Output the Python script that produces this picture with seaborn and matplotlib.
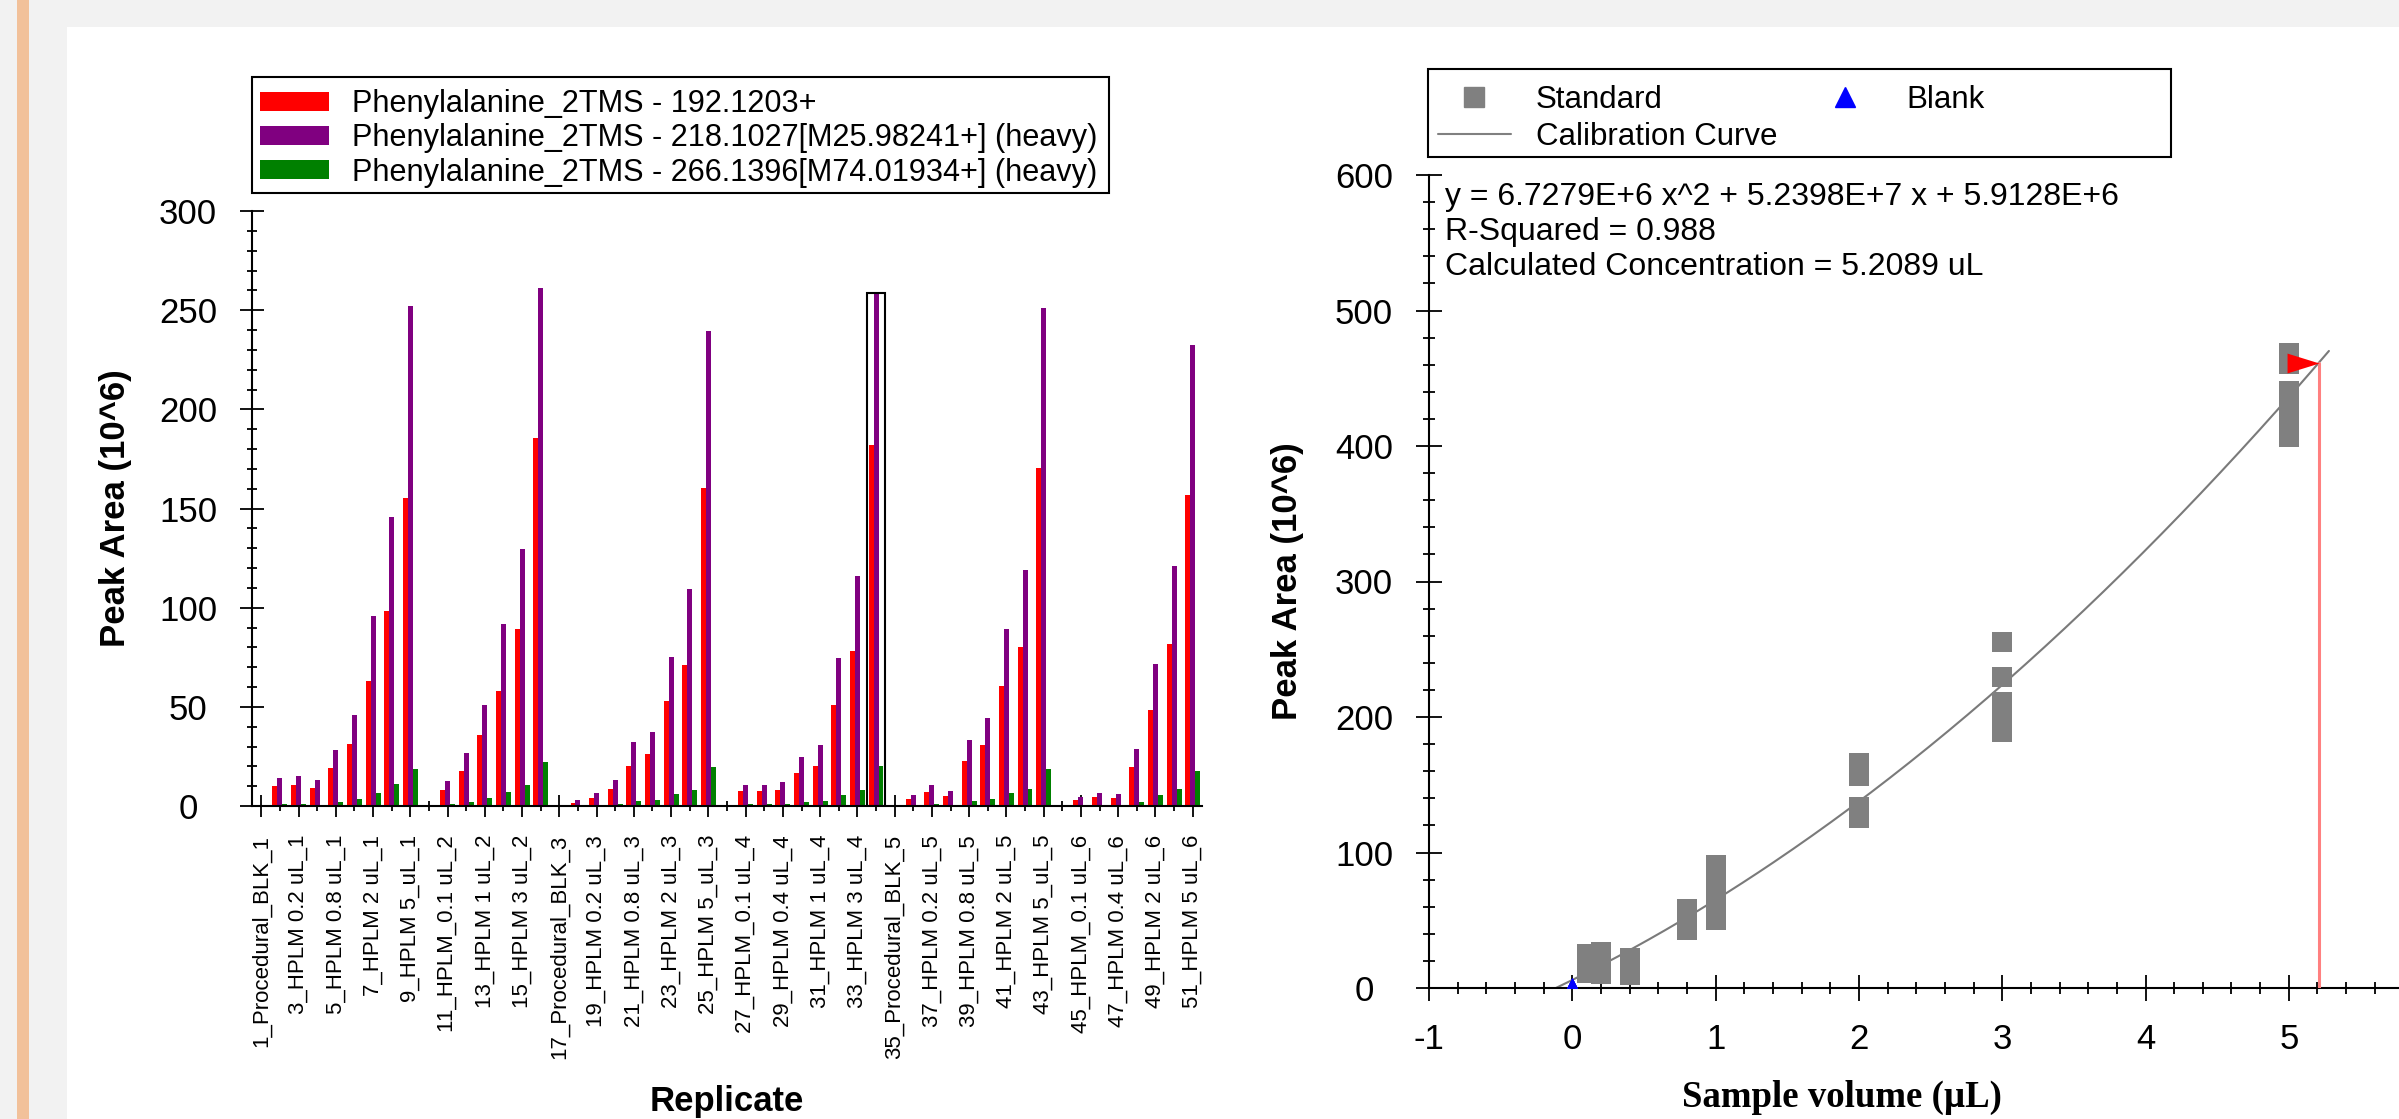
import numpy as np
import pandas as pd
import matplotlib
matplotlib.use("Agg")
import matplotlib.pyplot as plt
import seaborn as sns
from matplotlib.lines import Line2D
from matplotlib.patches import Patch, Rectangle
from matplotlib.ticker import MultipleLocator

# =========================
# Data (Peak Area in 10^6)
# =========================
replicates = [
    "1_Procedural_BLK_1", "2_HPLM_0.1 uL_1", "3_HPLM 0.2 uL_1", "4_HPLM 0.4 uL_1",
    "5_HPLM 0.8 uL_1", "6_HPLM 1 uL_1", "7_HPLM 2 uL_1", "8_HPLM 3 uL_1", "9_HPLM 5_uL_1",
    "10_Procedural_BLK_2", "11_HPLM_0.1 uL_2", "12_HPLM 0.8 uL_2", "13_HPLM 1 uL_2",
    "14_HPLM 2 uL_2", "15_HPLM 3 uL_2", "16_HPLM 5_uL_2",
    "17_Procedural_BLK_3", "18_HPLM_0.1 uL_3", "19_HPLM 0.2 uL_3", "20_HPLM 0.4 uL_3",
    "21_HPLM 0.8 uL_3", "22_HPLM 1 uL_3", "23_HPLM 2 uL_3", "24_HPLM 3 uL_3", "25_HPLM 5_uL_3",
    "26_Procedural_BLK_4", "27_HPLM_0.1 uL_4", "28_HPLM 0.2 uL_4", "29_HPLM 0.4 uL_4",
    "30_HPLM 0.8 uL_4", "31_HPLM 1 uL_4", "32_HPLM 2 uL_4", "33_HPLM 3 uL_4", "34_HPLM 5_uL_4",
    "35_Procedural_BLK_5", "36_HPLM_0.1 uL_5", "37_HPLM 0.2 uL_5", "38_HPLM 0.4 uL_5",
    "39_HPLM 0.8 uL_5", "40_HPLM 1 uL_5", "41_HPLM 2 uL_5", "42_HPLM 3 uL_5", "43_HPLM 5_uL_5",
    "44_Procedural_BLK_6", "45_HPLM_0.1 uL_6", "46_HPLM 0.2 uL_6", "47_HPLM 0.4 uL_6",
    "48_HPLM 1 uL_6", "49_HPLM 2 uL_6", "50_HPLM 3 uL_6", "51_HPLM 5 uL_6",
]

area_192 = [
    0, 10.2, 10.6, 9.0, 19.2, 31.3, 63.2, 98.4, 155.1,
    0, 8.1, 17.5, 35.6, 58.2, 89.0, 185.5,
    0, 1.5, 4.0, 8.5, 20.4, 26.1, 52.7, 70.9, 160.1,
    0, 7.5, 7.5, 7.9, 16.5, 20.4, 50.7, 78.4, 182.2,
    0, 3.3, 6.9, 5.0, 22.5, 30.6, 60.7, 80.3, 170.5,
    0, 2.9, 4.4, 4.0, 19.6, 48.2, 81.9, 156.6,
]
area_218 = [
    0, 14.3, 14.9, 12.9, 28.0, 46.0, 95.7, 145.7, 252.0,
    0, 12.5, 26.5, 50.7, 91.9, 129.7, 261.4,
    0, 2.9, 6.5, 12.9, 32.1, 37.1, 75.3, 109.4, 239.7,
    0, 10.4, 10.8, 11.9, 24.6, 30.6, 74.4, 116.1, 257.9,
    0, 5.4, 10.4, 7.5, 33.5, 44.5, 89.4, 119.0, 251.2,
    0, 4.5, 6.4, 5.8, 28.9, 71.7, 121.1, 232.2,
]
area_266 = [
    0, 0.8, 0.8, 0.7, 2.0, 3.3, 6.8, 10.9, 18.5,
    0, 1.0, 2.1, 4.2, 6.9, 10.6, 22.1,
    0, 0.2, 0.4, 1.0, 2.5, 3.1, 5.8, 8.3, 19.6,
    0, 0.8, 0.8, 0.8, 1.9, 2.5, 5.4, 8.3, 20.4,
    0, 0.3, 0.8, 0.5, 2.4, 3.3, 6.4, 8.4, 18.5,
    0, 0.2, 0.4, 0.4, 1.8, 5.4, 8.4, 17.5,
]
ion_labels = [
    "Phenylalanine_2TMS - 192.1203+",
    "Phenylalanine_2TMS - 218.1027[M25.98241+] (heavy)",
    "Phenylalanine_2TMS - 266.1396[M74.01934+] (heavy)",
]
ion_colors = ["#ff0000", "#800080", "#008000"]
selected_replicate = "34_HPLM 5_uL_4"

# calibration standards (sample volume uL, peak area 10^6)
std_volume = [0.1] * 6 + [0.2] * 5 + [0.4] * 5 + [0.8] * 5 + [1] * 6 + [2] * 6 + [3] * 6 + [5] * 6
std_area = [
    25.4, 21.8, 11.0, 18.7, 12.0, 12.5,
    26.4, 10.5, 19.1, 18.1, 10.9,
    22.5, 22.4, 20.6, 12.5, 9.8,
    49.4, 46.1, 55.0, 43.0, 58.6,
    80.7, 90.5, 66.3, 53.5, 78.5, 50.5,
    165.8, 157.0, 133.8, 130.5, 156.6, 125.3,
    255.1, 229.3, 188.6, 202.8, 207.6, 211.3,
    425.7, 469.0, 419.4, 460.5, 440.3, 406.3,
]
blank_volume = [0, 0, 0, 0, 0, 0]
blank_area = [0, 0, 0, 0, 0, 0]

# y = a x^2 + b x + c  (in 10^6)
fit_a, fit_b, fit_c = 6.7279, 52.398, 5.9128
fit_r2 = 0.988
calc_conc = 5.2089
curve_end = 5.28

# =========================
# Style
# =========================
W, H, DPI = 2399, 1119, 100
sns.set_style("ticks", {"axes.edgecolor": "black", "xtick.color": "black",
                        "ytick.color": "black", "text.color": "black",
                        "axes.labelcolor": "black"})
plt.rcParams["font.family"] = ["Liberation Sans", "DejaVu Sans"]
plt.rcParams["axes.unicode_minus"] = False


def px_box(x0, y0, x1, y1):
    # pixel box (top-left origin) -> figure fraction [l, b, w, h]
    return [x0 / W, 1 - y1 / H, (x1 - x0) / W, (y1 - y0) / H]


fig = plt.figure(figsize=(W / DPI, H / DPI), dpi=DPI, facecolor="#f2f2f2")
fig.patches.append(Rectangle((67 / W, 0), 1 - 67 / W, 1 - 27 / H, transform=fig.transFigure,
                             facecolor="white", edgecolor="none", zorder=-10))
fig.patches.append(Rectangle((17 / W, 0), 12 / W, 1, transform=fig.transFigure,
                             facecolor="#f2c19a", edgecolor="none", zorder=-10))

ax1 = fig.add_axes(px_box(252, 211, 1202, 806))
ax2 = fig.add_axes(px_box(1429, 175, 2399, 988))
for ax in (ax1, ax2):
    ax.set_facecolor("none")

# =========================
# Left: peak areas by replicate
# =========================
n = len(replicates)
df = pd.DataFrame({
    "Replicate": replicates * 3,
    "Area": area_192 + area_218 + area_266,
    "Ion": [ion_labels[0]] * n + [ion_labels[1]] * n + [ion_labels[2]] * n,
})
sns.barplot(data=df, x="Replicate", y="Area", hue="Ion", order=replicates,
            hue_order=ion_labels, palette=ion_colors, width=0.8, gap=0,
            saturation=1, errorbar=None, linewidth=0, legend=False, ax=ax1)

sel = replicates.index(selected_replicate)
sel_top = df.loc[df["Replicate"] == selected_replicate, "Area"].max() + 0.6
ax1.add_patch(Rectangle((sel - 0.5, 0), 1, sel_top, fill=False, edgecolor="black",
                        linewidth=1.5, zorder=5))

ax1.set_xlim(-0.5, n - 0.5)
ax1.set_ylim(0, 300)
ax1.set_xticks(range(0, n, 2))
ax1.set_xticklabels(replicates[::2], rotation=90, fontsize=16)
ax1.set_xticks(range(1, n, 2), minor=True)
ax1.set_yticks(range(0, 301, 50))
ax1.yaxis.set_minor_locator(MultipleLocator(10))
ax1.tick_params(which="both", direction="inout", width=1.3)
ax1.tick_params(axis="y", which="major", length=17, pad=37.6, labelsize=25)
ax1.tick_params(axis="y", which="minor", length=6.5)
ax1.tick_params(axis="x", which="major", length=16.5, pad=12.6)
ax1.tick_params(axis="x", which="minor", length=7.5)
plt.setp(ax1.get_yticklabels(), ha="center")

ax1.set_ylabel("Peak Area (10^6)", fontsize=25, fontweight="bold", va="center")
ax1.yaxis.set_label_coords((115 - 252) / 950, 0.5)
ax1.set_xlabel("Replicate", fontsize=25, fontweight="bold", va="center")
ax1.xaxis.set_label_coords(0.5, (806 - 1101) / 595)

# =========================
# Right: calibration curve
# =========================
std_df = pd.DataFrame({"Volume": std_volume, "Area": std_area})
x_start = (-fit_b + np.sqrt(fit_b ** 2 - 4 * fit_a * fit_c)) / (2 * fit_a)
x_fit = np.linspace(x_start, curve_end, 200)
y_fit = fit_a * x_fit ** 2 + fit_b * x_fit + fit_c
y_calc = fit_a * calc_conc ** 2 + fit_b * calc_conc + fit_c

sns.lineplot(x=x_fit, y=y_fit, color="#7a7a7a", linewidth=1.5, ax=ax2, zorder=2)
sns.scatterplot(data=std_df, x="Volume", y="Area", marker="s", s=14.8 ** 2,
                color="#808080", linewidth=0, legend=False, ax=ax2, zorder=3)
sns.scatterplot(x=blank_volume, y=blank_area, marker="^", s=15 ** 2,
                color="#0000ff", linewidth=0, legend=False, ax=ax2, zorder=4)
ax2.plot([calc_conc, calc_conc], [0, y_calc], color="#ff8080", linewidth=2.2, zorder=4)
flag = [(-2, -0.62), (0, 0), (-2, 0.62)]
ax2.plot([calc_conc], [y_calc], marker=flag, markersize=46, color="#ff0000",
         markeredgewidth=0, linestyle="none", zorder=6)

ax2.set_xlim(-1, -1 + 970 / 143.3)
ax2.set_ylim(0, 600)
ax2.set_xticks(range(-1, 6))
ax2.xaxis.set_minor_locator(MultipleLocator(0.2))
ax2.set_yticks(range(0, 601, 100))
ax2.yaxis.set_minor_locator(MultipleLocator(20))
ax2.tick_params(which="both", direction="inout", width=1.3, labelsize=25)
ax2.tick_params(axis="y", which="major", length=18.7, pad=37.4)
ax2.tick_params(axis="x", which="major", length=18.7, pad=15.9)
ax2.tick_params(which="minor", length=9)
plt.setp(ax2.get_yticklabels(), ha="center")

ax2.set_ylabel("Peak Area (10^6)", fontsize=25, fontweight="bold", va="center")
ax2.yaxis.set_label_coords((1288 - 1429) / 970, 0.5)
ax2.set_xlabel("Sample volume (\u00b5L)", fontsize=26.5, fontweight="bold",
               family=["Liberation Serif", "DejaVu Serif"], va="center")
ax2.xaxis.set_label_coords((1842 - 1429) / 970, (988 - 1097) / 813)

info = [
    f"y = {fit_a:.4f}E+6 x^2 + {fit_b / 10:.4f}E+7 x + {fit_c:.4f}E+6",
    f"R-Squared = {fit_r2}",
    f"Calculated Concentration = {calc_conc} uL",
]
for line, ypx in zip(info, [197, 232, 267]):
    ax2.text((1445 - 1429) / 970, (988 - ypx) / 813, line, transform=ax2.transAxes,
             fontsize=23, va="center", ha="left")

for ax in (ax1, ax2):
    sns.despine(ax=ax)
    for s in ("left", "bottom"):
        ax.spines[s].set_linewidth(1.5)

# =========================
# Legends (frames drawn as boxes)
# =========================
leg1 = fig.legend([Patch(facecolor=c, edgecolor="none") for c in ion_colors], ion_labels,
                  loc="upper left", bbox_to_anchor=(260 / W, 1 - 89 / H), frameon=False,
                  borderaxespad=0, borderpad=0, fontsize=22.1, handlelength=2.25,
                  handleheight=0.58, handletextpad=0.74, labelspacing=0.14)
fig.patches.append(Rectangle((252 / W, 1 - 193 / H), (1109 - 252) / W, (193 - 77) / H,
                             transform=fig.transFigure, fill=False, edgecolor="black",
                             linewidth=1.5))

cal_handles = [
    Line2D([], [], marker="s", markersize=14.8, color="#808080", linestyle="none"),
    Line2D([], [], color="#808080", linewidth=1.5),
    Line2D([], [], marker="^", markersize=15, color="#0000ff", linestyle="none"),
]
leg2 = fig.legend(cal_handles, ["Standard", "Calibration Curve", "Blank"], ncol=2,
                  loc="upper left", bbox_to_anchor=(1438 / W, 1 - 85 / H), frameon=False,
                  borderaxespad=0, borderpad=0, fontsize=22.5, handlelength=2.33,
                  handletextpad=0.8, labelspacing=0.21, columnspacing=1.0)
fig.patches.append(Rectangle((1428 / W, 1 - 157 / H), (2171 - 1428) / W, (157 - 69) / H,
                             transform=fig.transFigure, fill=False, edgecolor="black",
                             linewidth=1.5))

fig.savefig("out.png", dpi=DPI, facecolor=fig.get_facecolor())
